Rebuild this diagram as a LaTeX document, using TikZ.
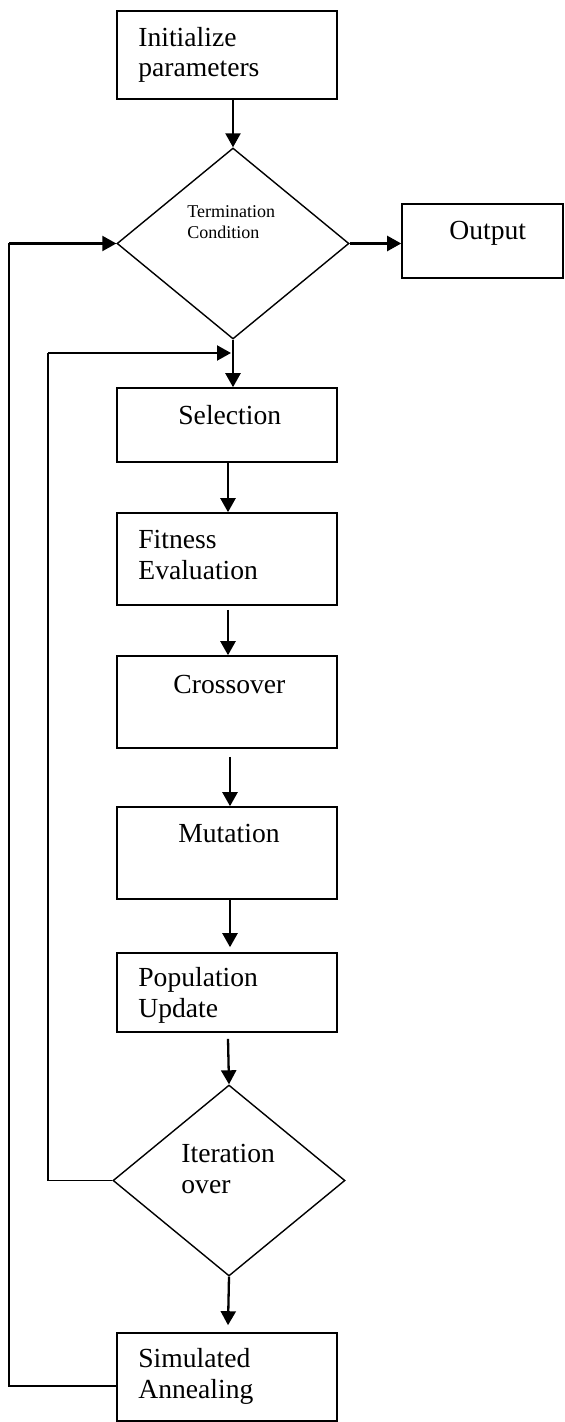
\documentclass[tikz,border=0pt]{standalone}
\usepackage{fontspec}
\setmainfont{Liberation Serif}
\usetikzlibrary{arrows.meta,shapes.geometric}
\begin{document}
\begin{tikzpicture}[x=0.5pt,y=-0.5pt,
  box/.style={draw, line width=0.8pt, rectangle, inner sep=0pt, minimum width=110pt},
  dia/.style={draw, line width=0.7pt, diamond, inner sep=0pt, minimum width=116pt, minimum height=95.5pt},
  lbl/.style={anchor=base west, inner sep=0pt, align=left, font=\fontsize{13.8}{15.2}\selectfont},
  small/.style={anchor=base west, inner sep=0pt, align=left, font=\fontsize{9}{10.5}\selectfont},
  arr/.style={line width=1.15pt, -{Triangle[length=7pt,width=7.5pt]}},
  back/.style={line width=0.85pt},
  backarr/.style={line width=1.05pt, -{Triangle[length=7pt,width=7.5pt]}},
]
\useasboundingbox (0,0) rectangle (564,1422);

% boxes
\node[box, minimum height=44pt] (init) at (227,55) {};
\node[dia] (term) at (233,243.5) {};
\node[box, minimum width=80.5pt, minimum height=37pt] (out) at (482.5,241) {};
\node[box, minimum height=37pt] (sel) at (227,425) {};
\node[box, minimum height=46pt] (fit) at (227,559) {};
\node[box, minimum height=46pt] (cross) at (227,702) {};
\node[box, minimum height=46pt] (mut) at (227,853) {};
\node[box, minimum height=39.5pt] (pop) at (227,992.5) {};
\node[dia] (iter) at (229,1180.5) {};
\node[box, minimum height=44pt] (sim) at (227,1377) {};

% texts (anchor at the baseline of the last line)
\node[lbl] (tinit) at (138,77) {Initialize\\parameters};
\node[small] (tterm) at (187,239) {Termination\\Condition};
\node[lbl] (tout) at (449,240) {Output};
\node[lbl] (tsel) at (178,424) {Selection};
\node[lbl] (tfit) at (138,579) {Fitness\\Evaluation};
\node[lbl] (tcross) at (173,693) {Crossover};
\node[lbl] (tmut) at (178,842) {Mutation};
\node[lbl] (tpop) at (138,1017) {Population\\Update};
\node[lbl] (titer) at (181,1193) {Iteration\\over};
\node[lbl] (tsim) at (138,1398) {Simulated\\Annealing};

% junction points
\coordinate (j1) at (233,353);
\coordinate (c1) at (48,353);
\coordinate (c2) at (48,1180.5);
\coordinate (o1) at (9,243.5);
\coordinate (o2) at (9,1386);
\coordinate (s1) at (117,1386);

% main flow
\draw[arr] (init.south -| term.north) -- (term.north);
\draw[arr] (term.east) -- (term.east -| out.west);
\draw[arr] (term.south) -- (sel.north -| term.south);
\draw[arr] ([xshift=0.5pt]sel.south) -- ([xshift=0.5pt]fit.north);
\draw[arr] ([xshift=0.5pt,yshift=-2pt]fit.south) -- ([xshift=0.5pt]cross.north);
\draw[arr] ([xshift=1.5pt,yshift=-4pt]cross.south) -- ([xshift=1.5pt]mut.north);
\draw[arr] ([xshift=1.5pt]mut.south) -- ([xshift=1.5pt,yshift=2.5pt]pop.north);
\draw[arr] ([xshift=0.5pt,yshift=-3pt]pop.south) -- (iter.north);
\draw[arr] (iter.south) -- ([xshift=0.5pt,yshift=3.5pt]sim.north);

% loops
\draw[back] (iter.west) -- (c2) -- (c1);
\draw[backarr] (c1) -- ([xshift=-1pt]j1);
\draw[back] (s1) -- (o2) -- (o1);
\draw[backarr] (o1) -- (term.west);
\end{tikzpicture}
\end{document}
